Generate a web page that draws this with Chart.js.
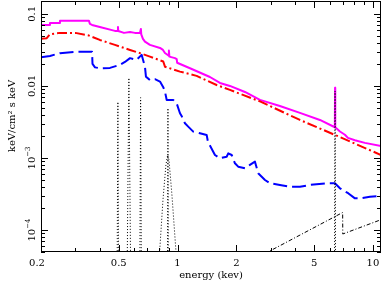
<!DOCTYPE html>
<html><head><meta charset="utf-8">
<script src="https://cdn.jsdelivr.net/npm/chart.js@4.4.0/dist/chart.umd.min.js"></script>
<style>html,body{margin:0;padding:0;background:#fff;overflow:hidden}#wrap{width:382px;height:283px}</style>
</head><body><div id="wrap"><canvas id="c" width="382" height="283"></canvas></div>
<script>
// ---- data (energy in keV, flux in keV/cm^2 s keV) ----
const totalE = [0.2, 0.2223, 0.2224, 0.25, 0.2501, 0.352, 0.356, 0.365, 0.40, 0.478, 0.494, 0.4955, 0.497, 0.532, 0.571, 0.605, 0.642, 0.649, 0.652, 0.665, 0.681, 0.722, 0.813, 0.842, 0.862, 0.898, 0.903, 0.908, 0.97, 0.99, 0.995, 1.158, 1.465, 1.648, 1.854, 2.213, 2.641, 3.34, 4.231, 5.355, 6.385, 6.40, 6.415, 6.78, 7.19, 7.45, 8.09, 9.10, 11];
const totalF = [0.0703, 0.0703, 0.075, 0.075, 0.080, 0.080, 0.0726, 0.0703, 0.0659, 0.0581, 0.0581, 0.066, 0.058, 0.0545, 0.0562, 0.0545, 0.0545, 0.0619, 0.052, 0.045, 0.0412, 0.0371, 0.0337, 0.0316, 0.0287, 0.0265, 0.031, 0.0255, 0.0243, 0.0235, 0.021, 0.0176, 0.0133, 0.0110, 0.0100, 0.00825, 0.0064, 0.00527, 0.00422, 0.00337, 0.00267, 0.0094, 0.00266, 0.00233, 0.0021, 0.0019, 0.00176, 0.00162, 0.00146];

const powE = [0.2, 0.214, 0.222, 0.25, 0.30, 0.352, 0.40, 0.478, 0.571, 0.642, 0.722, 0.845, 0.862, 1.029, 1.252, 1.585, 1.854, 2.641, 4.231, 6.39, 11];
const powF = [0.045, 0.046, 0.052, 0.0545, 0.0545, 0.050, 0.0435, 0.0371, 0.0316, 0.0285, 0.0255, 0.0218, 0.0185, 0.0158, 0.0138, 0.0103, 0.0088, 0.0061, 0.00337, 0.00209, 0.00110];

const thermE = [0.2, 0.2223, 0.25, 0.30, 0.365, 0.367, 0.378, 0.401, 0.451, 0.507, 0.538, 0.571, 0.617, 0.655, 0.681, 0.689, 0.722, 0.766, 0.813, 0.845, 0.862, 0.880, 0.914, 0.951, 0.989, 1.029, 1.049, 1.091, 1.134, 1.203, 1.302, 1.409, 1.431, 1.554, 1.648, 1.784, 1.818, 1.893, 1.967, 2.044, 2.213, 2.346, 2.490, 2.587, 2.802, 2.971, 3.340, 3.760, 4.231, 4.760, 5.79, 6.39, 6.78, 7.47, 8.09, 8.57, 9.65, 11];
const thermF = [0.0250, 0.0261, 0.0285, 0.0297, 0.0299, 0.0202, 0.0181, 0.0176, 0.0178, 0.0196, 0.0215, 0.0243, 0.0230, 0.0270, 0.0185, 0.01346, 0.0121, 0.0124, 0.01148, 0.0096, 0.00834, 0.00639, 0.00639, 0.00639, 0.00576, 0.00418, 0.00383, 0.00303, 0.00272, 0.00232, 0.00220, 0.00209, 0.00168, 0.00110, 0.00099, 0.00104, 0.00116, 0.00110, 0.000843, 0.000757, 0.000719, 0.000800, 0.000889, 0.000613, 0.000495, 0.000446, 0.000422, 0.000399, 0.000399, 0.000422, 0.000446, 0.000446, 0.000379, 0.000324, 0.000275, 0.000275, 0.000290, 0.000297];

const narrowE = [0.488, 0.495, 0.502, null, 0.546, 0.5635, 0.582, null, 0.638, 0.647, 0.656, null, 0.885, 0.893, 0.901, null, 6.34, 6.40, 6.46];
const narrowF = [1e-6, 0.0060, 1e-6, null, 1e-6, 0.0129, 1e-6, null, 1e-6, 0.00688, 1e-6, null, 1e-6, 0.0049, 1e-6, null, 1e-6, 0.0085, 1e-6];

const broadE = [0.80, 0.842, 0.872, 0.890, 0.904, 0.936, 0.995];
const broadF = [3e-5, 0.000261, 0.0008, 0.0011, 0.000938, 0.000306, 3e-5];

const reflE = [2.8, 7.0, 7.01, 11];
const reflF = [4.7e-5, 0.000175, 8.8e-5, 0.000139];

const xMajor = [0.2, 0.5, 1, 2, 5, 10];
const xLabels = ['0.2', '0.5', '1', '2', '5', '10'];
const xMinor = [0.3, 0.4, 0.6, 0.7, 0.8, 0.9, 3, 4, 6, 7, 8, 9];
const yMajor = [1e-4, 1e-3, 0.01, 0.1];
const yLabelBase = ['10', '10', '0.01', '0.1'];
const yLabelExp = ['\u22124', '\u22123', '', ''];
const xTitle = 'energy (kev)';
const yTitle = 'keV/cm\u00B2 s keV';

function pts(E, F) { return E.map((e, i) => ({ x: e, y: F[i] })); }

const FONT = '"DejaVu Serif", "Liberation Serif", serif';

const decor = {
  id: 'decor',
  afterDraw(chart) {
    const { ctx, chartArea: a, scales: { x, y } } = chart;
    ctx.save();
    ctx.strokeStyle = '#000';
    ctx.lineWidth = 1;
    ctx.strokeRect(a.left + 0.5, a.top + 0.5, a.right - a.left - 1, a.bottom - a.top - 1);
    const tickX = (v, len) => {
      const px = Math.round(x.getPixelForValue(v)) + 0.5;
      ctx.beginPath();
      ctx.moveTo(px, a.bottom); ctx.lineTo(px, a.bottom - len);
      ctx.moveTo(px, a.top); ctx.lineTo(px, a.top + len);
      ctx.stroke();
    };
    const tickY = (v, len) => {
      const py = Math.round(y.getPixelForValue(v)) + 0.5;
      ctx.beginPath();
      ctx.moveTo(a.left, py); ctx.lineTo(a.left + len, py);
      ctx.moveTo(a.right, py); ctx.lineTo(a.right - len, py);
      ctx.stroke();
    };
    xMajor.forEach(v => tickX(v, 7));
    xMinor.forEach(v => tickX(v, 4));
    for (let d = -5; d <= -1; d++) {
      const base = Math.pow(10, d);
      tickY(base, 7);
      for (let m = 2; m <= 9; m++) {
        const v = m * base;
        if (v > y.min && v < y.max) tickY(v, 4);
      }
    }
    ctx.fillStyle = '#000';
    ctx.font = '10px ' + FONT;
    ctx.textAlign = 'center';
    ctx.textBaseline = 'alphabetic';
    xMajor.forEach((v, i) => {
      let px = x.getPixelForValue(v);
      if (i === 0) px -= 4;
      ctx.fillText(xLabels[i], px, 266);
    });
    ctx.fillText(xTitle, (a.left + a.right) / 2, 278);
    yMajor.forEach((v, i) => {
      const py = y.getPixelForValue(v);
      ctx.save();
      ctx.translate(35, py);
      ctx.rotate(-Math.PI / 2);
      ctx.font = '10px ' + FONT;
      const w1 = ctx.measureText(yLabelBase[i]).width;
      ctx.font = '7px ' + FONT;
      const w2 = yLabelExp[i] ? ctx.measureText(yLabelExp[i]).width : 0;
      const w = w1 + w2;
      ctx.textAlign = 'left';
      ctx.font = '10px ' + FONT;
      ctx.fillText(yLabelBase[i], -w / 2, 0);
      if (w2) {
        ctx.font = '7px ' + FONT;
        ctx.fillText(yLabelExp[i], -w / 2 + w1, -5);
      }
      ctx.restore();
    });
    ctx.save();
    ctx.translate(15, 116);
    ctx.rotate(-Math.PI / 2);
    ctx.font = '10px ' + FONT;
    ctx.textAlign = 'center';
    ctx.fillText(yTitle, 0, 0);
    ctx.restore();
    ctx.restore();
  }
};

const base = { showLine: true, pointRadius: 0, pointHoverRadius: 0, fill: false, tension: 0, spanGaps: false, borderJoinStyle: 'round', borderCapStyle: 'butt' };

new Chart(document.getElementById('c'), {
  type: 'scatter',
  data: {
    datasets: [
      Object.assign({}, base, { label: 'lines', data: pts(narrowE, narrowF), borderColor: '#000', borderWidth: 1, borderDash: [1, 2] }),
      Object.assign({}, base, { label: 'broad', data: pts(broadE, broadF), borderColor: '#000', borderWidth: 1, borderDash: [1, 2] }),
      Object.assign({}, base, { label: 'refl', data: pts(reflE, reflF), borderColor: '#000', borderWidth: 1, borderDash: [4, 2, 1, 2] }),
      Object.assign({}, base, { label: 'thermal', data: pts(thermE, thermF), borderColor: '#0000ff', borderWidth: 2, borderDash: [14, 5] }),
      Object.assign({}, base, { label: 'powerlaw', data: pts(powE, powF), borderColor: '#ff0000', borderWidth: 2, borderDash: [10, 3, 2, 3] }),
      Object.assign({}, base, { label: 'total', data: pts(totalE, totalF), borderColor: '#ff00ff', borderWidth: 2 })
    ]
  },
  options: {
    responsive: false,
    devicePixelRatio: 1,
    animation: false,
    layout: { padding: { left: 41, right: 1, top: 1, bottom: 31 } },
    plugins: { legend: { display: false }, tooltip: { enabled: false } },
    scales: {
      x: { type: 'logarithmic', min: 0.2, max: 11, display: false },
      y: { type: 'logarithmic', min: 4.95e-5, max: 0.151, display: false }
    }
  },
  plugins: [decor]
});
</script>
</body></html>
